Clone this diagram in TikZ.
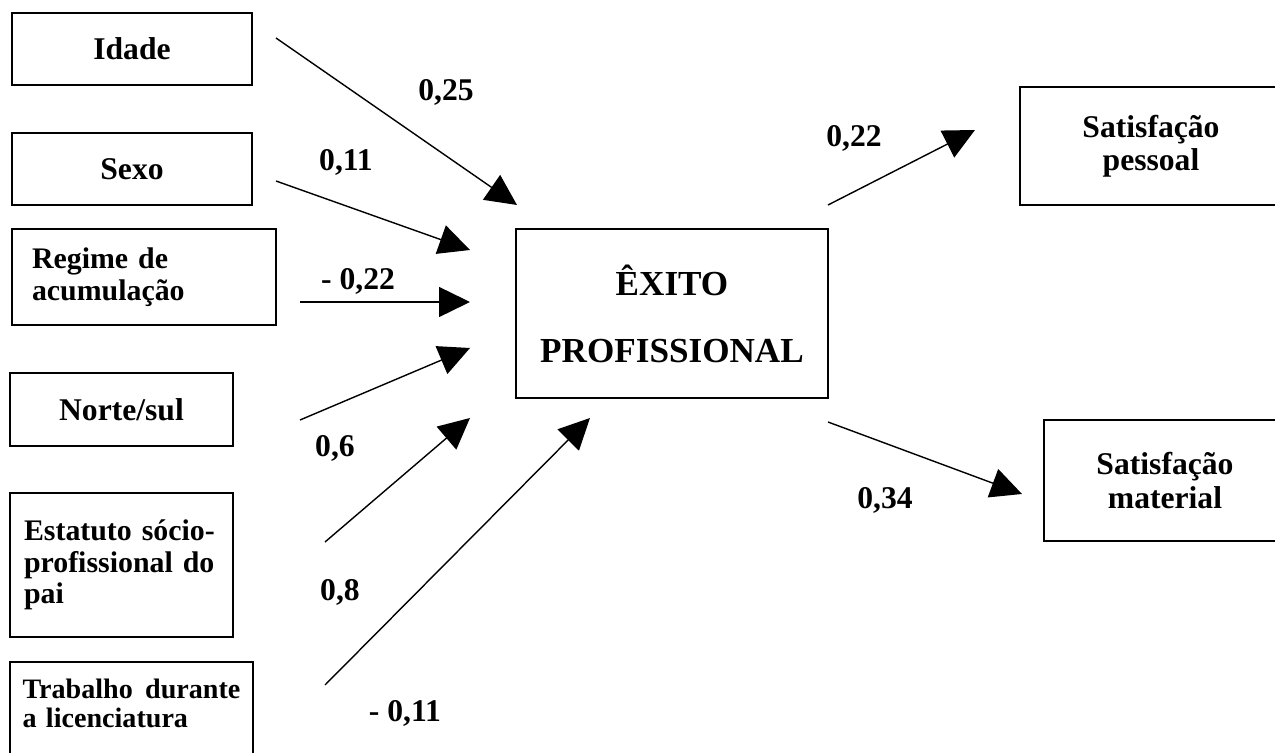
\documentclass[tikz,border=0pt]{standalone}
\usepackage{fontspec}
\setmainfont{Liberation Serif}
\usetikzlibrary{arrows.meta}
\tikzset{
    BX/.style ={rectangle, draw, line width=1pt, font=\fontsize{18}{19}\selectfont\bfseries},
    BL/.style ={BX, align=left, font=\fontsize{17}{18}\selectfont\bfseries},
    AR/.style ={-{Triangle[length=0.62cm,width=0.6cm]}, line width=0.8pt},
    SU/.style ={font=\fontsize{18}{20}\selectfont\bfseries}}

\begin{document}
\begin{tikzpicture}[x=0.02cm,y=-0.02cm]
        \useasboundingbox (0,0) rectangle (1275,753);
        \node[BX, minimum width=4.8cm, minimum height=1.44cm] (1) at(132,49){Idade};
        \node[BX, minimum width=4.8cm, minimum height=1.44cm] (2) at(132,169){Sexo};
        \node[BL, text width=4.48cm, inner xsep=0.4cm, minimum height=1.92cm] (3) at(144,277){Regime de\\acumulação};
        \node[BX, minimum width=4.46cm, minimum height=1.46cm] (4) at(121.5,409.5){Norte/sul};
        \node[BL, text width=3.9cm, inner xsep=0.28cm, minimum height=2.88cm] (5) at(121.5,565){Estatuto sócio-\\profissional do\\pai};
        \node[BL, font=\fontsize{16}{17}\selectfont\bfseries, text width=4.36cm, inner xsep=0.25cm, inner ysep=0pt, minimum height=2.0cm, text depth=0.95cm] (6) at(131.5,712){\hbox to \linewidth{Trabalho\hfill durante}\\a licenciatura};
        \node[BX, align=center, font=\fontsize{20}{24}\selectfont\bfseries, minimum width=6.24cm, minimum height=3.38cm] (7) at(672,313.5){ÊXITO\\[0.5cm]PROFISSIONAL};
        \node[BX, align=center, minimum width=5.24cm, minimum height=2.36cm] (8) at(1151,146){Satisfação\\pessoal};
        \node[BX, align=center, minimum width=4.84cm, minimum height=2.42cm] (9) at(1165,480.5){Satisfação\\material};
        \coordinate (a1) at(276,38);   \coordinate (b1) at(517,205);
        \coordinate (a2) at(276,181);  \coordinate (b2) at(470,250);
        \coordinate (a3) at(300,302);  \coordinate (b3) at(470,302);
        \coordinate (a4) at(300,420);  \coordinate (b4) at(470,348);
        \coordinate (a5) at(325,542);  \coordinate (b5) at(470,418);
        \coordinate (a6) at(325,685);  \coordinate (b6) at(590,418);
        \coordinate (a7) at(828,205);  \coordinate (b7) at(975,130);
        \coordinate (a8) at(828,422);  \coordinate (b8) at(1022,494);
        \draw[AR] (a1) -- (b1);
        \draw[AR] (a2) -- (b2);
        \draw[AR] (a3) -- (b3);
        \draw[AR] (a4) -- (b4);
        \draw[AR] (a5) -- (b5);
        \draw[AR] (a6) -- (b6);
        \draw[AR] (a7) -- (b7);
        \draw[AR] (a8) -- (b8);
        \node[SU] (l1) at(446,92){0,25};
        \node[SU] (l2) at(346,162){0,11};
        \node[SU] (l3) at(358,281){- 0,22};
        \node[SU] (l4) at(335,448){0,6};
        \node[SU] (l5) at(340,592){0,8};
        \node[SU] (l6) at(405,713){- 0,11};
        \node[SU] (l7) at(854,138){0,22};
        \node[SU] (l8) at(885,500){0,34};
    \end{tikzpicture}
\end{document}
